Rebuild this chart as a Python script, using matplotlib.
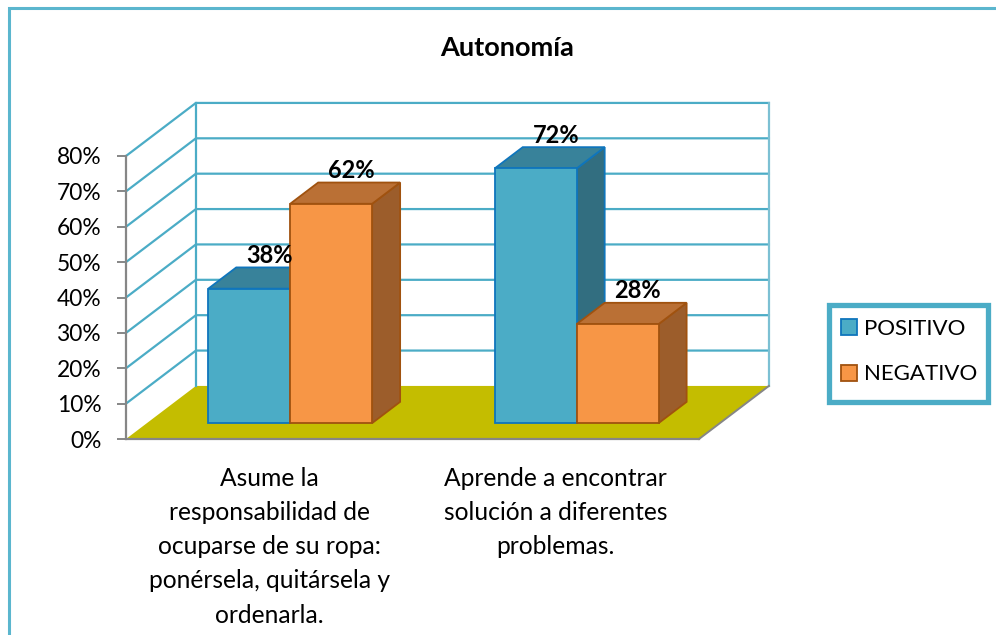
import matplotlib
matplotlib.use('Agg')
import matplotlib.pyplot as plt
from matplotlib.patches import Polygon, Rectangle

plt.rcParams['font.family'] = ['Lato', 'DejaVu Sans']

title = 'Autonomía'
categories = ['Asume la\nresponsabilidad de\nocuparse de su ropa:\nponérsela, quitársela y\nordenarla.',
              'Aprende a encontrar\nsolución a diferentes\nproblemas.']
series_names = ['POSITIVO', 'NEGATIVO']
positivo = [38, 72]
negativo = [62, 28]
y_ticks = [0, 10, 20, 30, 40, 50, 60, 70, 80]

color_wall = '#4BACC6'
color_floor = '#C4BD00'
color_axis = '#868686'
colors = [
    {'front': '#4BACC6', 'top': '#38829A', 'side': '#326E80', 'edge': '#0F75BC'},
    {'front': '#F79646', 'top': '#BA7035', 'side': '#9C5D2B', 'edge': '#A0520F'},
]

W, H = 996, 635
DEPTH_X = 0.244   # category units for the whole depth of the box
DEPTH_Y = 15.0    # percent units for the whole depth of the box
BAR_W = 0.286
BAR_D0, BAR_D1 = 0.30, 0.70


def proj(x, v, d):
    return (x + DEPTH_X * d, v + DEPTH_Y * d)


def draw_bar(ax, left, value, c, z):
    right = left + BAR_W
    front = [proj(left, 0, BAR_D0), proj(right, 0, BAR_D0), proj(right, value, BAR_D0), proj(left, value, BAR_D0)]
    top = [proj(left, value, BAR_D0), proj(right, value, BAR_D0), proj(right, value, BAR_D1), proj(left, value, BAR_D1)]
    side = [proj(right, 0, BAR_D0), proj(right, 0, BAR_D1), proj(right, value, BAR_D1), proj(right, value, BAR_D0)]
    for pts, fc in ((side, c['side']), (top, c['top']), (front, c['front'])):
        ax.add_patch(Polygon(pts, closed=True, facecolor=fc, edgecolor=c['edge'], lw=1.3,
                             joinstyle='miter', zorder=z, clip_on=False))


fig = plt.figure(figsize=(W / 100, H / 100), dpi=100, facecolor='white')
ax = fig.add_axes([126 / W, 1 - 439 / H, 573 / W, 283 / H])
ax.set_xlim(-0.5, 1.5)
ax.set_ylim(0, 80)
ax.patch.set_visible(False)

# frame round the whole chart
fig.add_artist(Rectangle((9 / W, 1 - 650 / H), 1100 / W, 642 / H, transform=fig.transFigure,
                         facecolor='none', edgecolor='#5BB6CE', lw=2.2))

# floor
ax.add_patch(Polygon([proj(-0.5, 0, 0), proj(1.5, 0, 0), proj(1.5, 0, 1), proj(-0.5, 0, 1)],
                     closed=True, facecolor=color_floor, edgecolor='none', zorder=1, clip_on=False))

# walls and grid lines
for v in y_ticks:
    if v > 0:
        pts = [proj(-0.5, v, 0), proj(-0.5, v, 1), proj(1.5, v, 1)]
        ax.plot(*zip(*pts), color=color_wall, lw=1.6, zorder=2, clip_on=False, solid_joinstyle='miter')
ax.plot(*zip(proj(-0.5, 0, 1), proj(-0.5, 80, 1)), color=color_wall, lw=1.6, zorder=2, clip_on=False)
ax.plot(*zip(proj(1.5, 0, 1), proj(1.5, 80, 1)), color='#7CC0D3', lw=1.6, zorder=2, clip_on=False)

# axis edge of the floor on the right side
ax.plot(*zip(proj(1.5, 0, 0), proj(1.5, 0, 1)), color=color_axis, lw=1.4, zorder=2, clip_on=False)

for i in range(len(categories)):
    left = i - 0.5 + (1 - 2 * BAR_W) / 2
    draw_bar(ax, left, positivo[i], colors[0], 3 + i * 2)
    draw_bar(ax, left + BAR_W, negativo[i], colors[1], 4 + i * 2)
    for j, val in enumerate((positivo[i], negativo[i])):
        x, y = proj(left + BAR_W * (j + 0.5), val, BAR_D1)
        ax.text(x - 0.027, y + 3.4, f'{val}%', ha='center', va='center', fontsize=17,
                fontweight='bold', color='black', zorder=10)

ax.set_xticks([0, 1])
ax.set_xticklabels(categories, fontsize=17.7, linespacing=1.59)
ax.tick_params(axis='x', length=0, pad=20)
ax.set_yticks(y_ticks)
ax.set_yticklabels([f'{v}%' for v in y_ticks], fontsize=16.4)
ax.tick_params(axis='y', length=6.5, width=1.4, color=color_axis, pad=11, direction='out')
for s in ('top', 'right'):
    ax.spines[s].set_visible(False)
for s in ('left', 'bottom'):
    ax.spines[s].set_color(color_axis)
    ax.spines[s].set_linewidth(1.6)
    ax.spines[s].set_zorder(6)

fig.text(507 / W, 1 - 48 / H, title, ha='center', va='center', fontsize=19.5, fontweight='bold')

# legend box is drawn apart so the entries can sit freely inside it
fig.add_artist(Rectangle((829 / W, 1 - 402 / H), 159 / W, 97 / H, transform=fig.transFigure,
                         facecolor='white', edgecolor=color_wall, lw=3.8))
handles = [Rectangle((0, 0), 1, 1, facecolor=colors[k]['front'], edgecolor=colors[k]['edge'], lw=1.3)
           for k in range(2)]
leg = fig.legend(handles, series_names, loc='center left',
                 bbox_to_anchor=(841 / W, 1 - 351.5 / H),
                 fontsize=16, frameon=False, handlelength=0.72, handleheight=0.72, handletextpad=0.31,
                 labelspacing=1.16, borderaxespad=0, borderpad=0)
leg.set_zorder(20)

fig.savefig('out.png', dpi=100)
